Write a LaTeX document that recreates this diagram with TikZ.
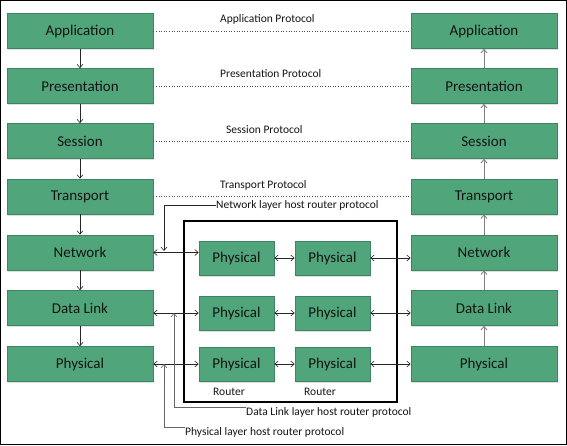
\documentclass[tikz,border=0pt]{standalone}
\usepackage{fontspec}
\setmainfont{Carlito}
\usetikzlibrary{arrows.meta,shadows}
\definecolor{boxgreen}{RGB}{80,166,122}
\definecolor{boxedge}{RGB}{62,132,98}
\definecolor{txt}{RGB}{20,20,20}
\tikzset{
  layer/.style={draw=boxedge,fill=boxgreen,line width=0.6pt,minimum width=146pt,minimum height=35pt,inner sep=0pt,
    font=\fontsize{15}{17}\selectfont,text=txt,drop shadow={opacity=0.25,shadow xshift=1pt,shadow yshift=-1.5pt}},
  phys/.style={layer,minimum width=75pt,minimum height=34pt},
  lbl/.style={font=\fontsize{11.5}{13}\selectfont,text=txt,inner sep=0pt,anchor=west},
  tip/.style={-{Straight Barb[length=3.5pt,width=6pt]}},
  dtip/.style={{Straight Barb[length=3.5pt,width=6pt]}-{Straight Barb[length=3.5pt,width=6pt]}},
  conn/.style={draw=black!85,line width=0.6pt},
  rconn/.style={draw=black!50,line width=0.9pt},
  proto/.style={draw=black!70,line width=0.6pt,dotted},
}
\begin{document}
\begin{tikzpicture}[x=1pt,y=-1pt]
\useasboundingbox (0,0) rectangle (567,445);
\draw[line width=1pt] (0.5,0.5) rectangle (566.5,444.5);
% left stack
\node[layer] (L1) at (80,31) {Application};
\node[layer] (L2) at (80,86) {Presentation};
\node[layer] (L3) at (80,141) {Session};
\node[layer] (L4) at (80,196.5) {Transport};
\node[layer] (L5) at (80,252.5) {Network};
\node[layer] (L6) at (80,308) {Data Link};
\node[layer] (L7) at (80,364) {Physical};
% right stack
\node[layer] (R1) at (484,31) {Application};
\node[layer] (R2) at (484,86) {Presentation};
\node[layer] (R3) at (484,141) {Session};
\node[layer] (R4) at (484,196.5) {Transport};
\node[layer] (R5) at (484,252.5) {Network};
\node[layer] (R6) at (484,308) {Data Link};
\node[layer] (R7) at (484,364) {Physical};
% routers
\node[draw=black,line width=1.6pt,minimum width=213pt,minimum height=181pt,inner sep=0pt] (RB) at (290.5,311.5) {};
\node[phys] (P11) at (236.5,258) {Physical};
\node[phys] (P12) at (332.5,258) {Physical};
\node[phys] (P21) at (236.5,313) {Physical};
\node[phys] (P22) at (332.5,313) {Physical};
\node[phys] (P31) at (236.5,364) {Physical};
\node[phys] (P32) at (332.5,364) {Physical};
\node[lbl,anchor=center] (RT1) at (229,392) {Router};
\node[lbl,anchor=center] (RT2) at (320,392) {Router};
% vertical arrows
\foreach \a/\b in {L1/L2,L2/L3,L3/L4,L4/L5,L5/L6,L6/L7}
  \draw[conn,tip] (\a.south) -- (\b.north);
\foreach \a/\b in {R2/R1,R3/R2,R4/R3,R5/R4,R6/R5,R7/R6}
  \draw[rconn,tip] (\a.north) -- (\b.south);
% peer protocols
\draw[proto] (L1.east) -- (R1.west);
\draw[proto] (L2.east) -- (R2.west);
\draw[proto] (L3.east) -- (R3.west);
\draw[proto] (L4.east) -- (R4.west);
\node[lbl] (A1) at (220,19) {Application Protocol};
\node[lbl] (A2) at (220,74) {Presentation Protocol};
\node[lbl] (A3) at (226,130) {Session Protocol};
\node[lbl] (A4) at (220,185) {Transport Protocol};
% host-router links
\draw[conn,dtip] (L5.east) -- (L5.east -| P11.west);
\draw[conn,dtip] (L6.east |- P21.west) -- (P21.west);
\draw[conn,dtip] (L7.east) -- (P31.west);
\draw[conn,dtip] (P11.east) -- (P12.west);
\draw[conn,dtip] (P21.east) -- (P22.west);
\draw[conn,dtip] (P31.east) -- (P32.west);
\draw[conn,dtip] (P12.east) -- (P12.east -| R5.west);
\draw[conn,dtip] (P22.east) -- (P22.east -| R6.west);
\draw[conn,dtip] (P32.east) -- (R7.west);
% protocol labels with leaders
\node[lbl] (NL) at (216,205) {Network layer host router protocol};
\node[lbl] (DL) at (246,412) {Data Link layer host router protocol};
\node[lbl] (PL) at (185,432) {Physical layer host router protocol};
\coordinate (n1) at (164,251);
\coordinate (d1) at (174,313);
\coordinate (p1) at (164,364);
\draw[conn,tip] (NL.west) -| (n1);
\draw[conn,draw=black!60,tip] ([yshift=4.5pt]DL.west) -| (d1);
\draw[conn,draw=black!60,tip] ([yshift=4.5pt]PL.west) -| (p1);
\end{tikzpicture}
\end{document}
